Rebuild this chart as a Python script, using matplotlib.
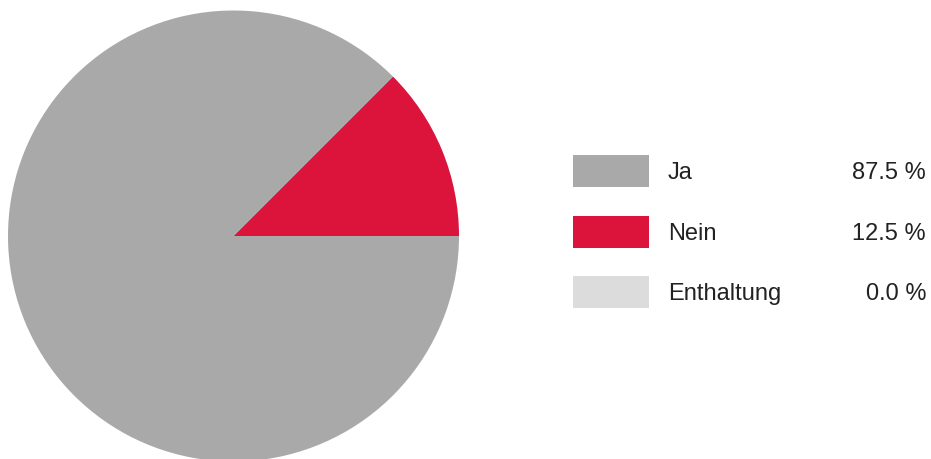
import matplotlib
matplotlib.use("Agg")
import matplotlib.pyplot as plt
from matplotlib.patches import Rectangle

labels = ["Ja", "Nein", "Enthaltung"]
values = [87.5, 12.5, 0.0]
colors = ["#a9a9a9", "#dc143c", "#dcdcdc"]

W, H = 931, 459
fig = plt.figure(figsize=(W / 100, H / 100), dpi=100)
fig.patch.set_facecolor("white")

# pie axes
cx, cy, r = 233.5, 236.0, 225.5
ax = fig.add_axes([(cx - r) / W, (H - cy - r) / H, 2 * r / W, 2 * r / H])
ax.pie([values[1], values[0]], colors=[colors[1], colors[0]], startangle=0,
       counterclock=True, radius=1.0, wedgeprops=dict(linewidth=0))
ax.set_xlim(-1, 1)
ax.set_ylim(-1, 1)
ax.set_aspect("equal")
ax.axis("off")

# legend axes in pixel coordinates
lax = fig.add_axes([0, 0, 1, 1])
lax.set_xlim(0, W)
lax.set_ylim(H, 0)
lax.axis("off")

font = dict(family=["Liberation Sans", "DejaVu Sans"], fontsize=17, fontweight="normal", color="#222222")
y0, dy = 155, 60.5
for i, (lab, val, col) in enumerate(zip(labels, values, colors)):
    top = y0 + i * dy
    lax.add_patch(Rectangle((573, top), 76, 32, facecolor=col, edgecolor="none"))
    base = top + 24
    lax.text(668, base, lab, ha="left", va="baseline", **font)
    lax.text(926, base, f"{val:.1f} %", ha="right", va="baseline", **font)

fig.savefig("out.png", dpi=100)
